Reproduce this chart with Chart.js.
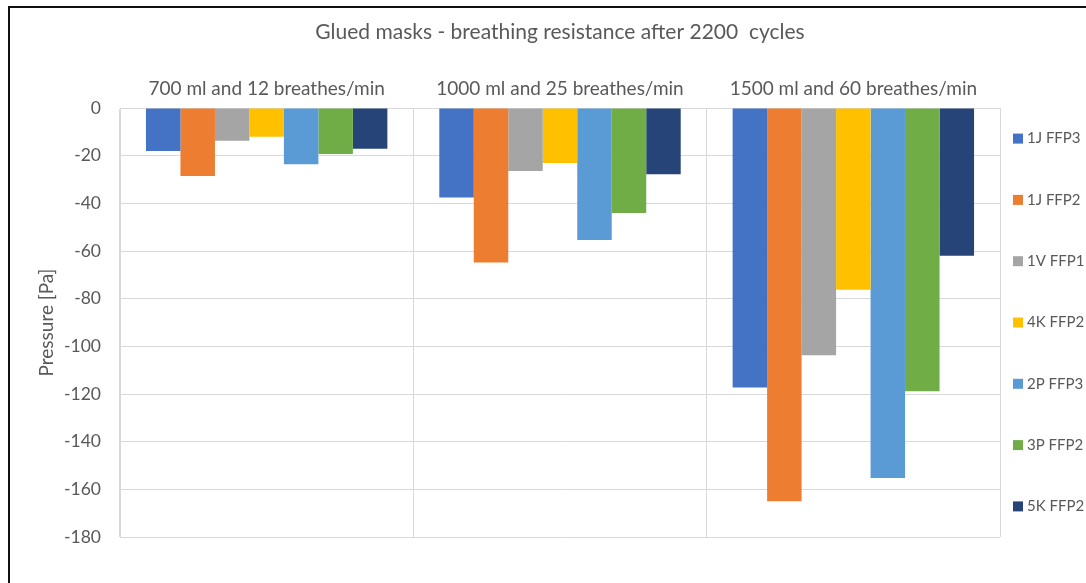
<!DOCTYPE html>
<html>
<head>
<meta charset="utf-8">
<script src="https://cdn.jsdelivr.net/npm/chart.js@4.4.0/dist/chart.umd.min.js"></script>
<style>
  html, body { margin: 0; padding: 0; background: #fff; }
  #wrap { position: relative; width: 1086px; height: 583px; overflow: hidden; }
  #marco { position: absolute; left: 8px; top: 6px; width: 1200px; height: 700px;
           border-left: 2px solid #111; border-top: 2px solid #111; pointer-events: none; }
</style>
</head>
<body>
<div id="wrap">
  <canvas id="grafica-presion" width="1086" height="583"></canvas>
  <div id="marco"></div>
</div>
<script>
  // Datos
  const categorias = ['700 ml and 12 breathes/min', '1000 ml and 25 breathes/min', '1500 ml and 60 breathes/min'];
  const mascaras = ['1J FFP3', '1J FFP2', '1V FFP1', '4K FFP2', '2P FFP3', '3P FFP2', '5K FFP2'];
  const colores = ['#4472C4', '#ED7D31', '#A5A5A5', '#FFC000', '#5B9BD5', '#70AD47', '#264478'];

  const j1Ffp3 = [-18, -37.5, -117.3];
  const j1Ffp2 = [-28.5, -64.8, -165];
  const v1Ffp1 = [-13.7, -26.4, -103.7];
  const k4Ffp2 = [-12.1, -23.1, -76.3];
  const p2Ffp3 = [-23.6, -55.4, -155.2];
  const p3Ffp2 = [-19.3, -44.1, -118.8];
  const k5Ffp2 = [-17.1, -27.8, -62];

  const ticksY = [0, -20, -40, -60, -80, -100, -120, -140, -160, -180];

  const series = [j1Ffp3, j1Ffp2, v1Ffp1, k4Ffp2, p2Ffp3, p3Ffp2, k5Ffp2];

  const fuente = 'Lato, "Open Sans", sans-serif';
  const gris = '#595959';
  const rejilla = '#D9D9D9';

  // leyenda a la derecha, repartida a lo alto del area de la grafica
  const leyendaDerecha = {
    id: 'leyendaDerecha',
    afterDraw(chart) {
      const { ctx, chartArea } = chart;
      const mitad = (chartArea.top + chartArea.bottom) / 2;
      const paso = 61.3;
      ctx.save();
      ctx.font = '15px ' + fuente;
      ctx.textBaseline = 'middle';
      chart.data.datasets.forEach((ds, i) => {
        const y = mitad + (i - 3) * paso;
        ctx.fillStyle = ds.backgroundColor;
        ctx.fillRect(chartArea.right + 13, y - 5, 10, 10);
        ctx.fillStyle = gris;
        ctx.fillText(ds.label, chartArea.right + 27, y);
      });
      ctx.restore();
    }
  };

  const ctx = document.getElementById('grafica-presion').getContext('2d');

  const chart = new Chart(ctx, {
    type: 'bar',
    data: {
      labels: categorias,
      datasets: mascaras.map((m, i) => ({
        label: m,
        data: series[i],
        backgroundColor: colores[i],
        borderWidth: 0,
        categoryPercentage: 0.823,
        barPercentage: 1
      }))
    },
    options: {
      responsive: false,
      animation: false,
      layout: { padding: { left: 0, right: 86, top: 0, bottom: 46 } },
      plugins: {
        legend: { display: false },
        tooltip: { enabled: false },
        title: {
          display: true,
          fullSize: false,
          text: 'Glued masks - breathing resistance after 2200  cycles',
          color: gris,
          font: { family: fuente, size: 21, weight: 'normal' },
          padding: { top: 20, bottom: 24 }
        }
      },
      scales: {
        x: {
          position: 'top',
          grid: { color: rejilla, drawTicks: false, offset: true },
          border: { color: rejilla },
          ticks: { color: gris, font: { family: fuente, size: 19 }, padding: 8 }
        },
        y: {
          min: -180,
          max: 0,
          afterBuildTicks(scale) {
            scale.ticks = ticksY.map(v => ({ value: v }));
          },
          afterFit(scale) { scale.width = 120; },
          grid: { color: rejilla, drawTicks: false },
          border: { color: rejilla },
          ticks: { color: gris, font: { family: fuente, size: 17.5 }, padding: 19 },
          title: {
            display: true,
            text: 'Pressure [Pa]',
            color: gris,
            font: { family: fuente, size: 19 },
            padding: { top: 35, bottom: 0 }
          }
        }
      }
    },
    plugins: [leyendaDerecha]
  });
</script>
</body>
</html>
